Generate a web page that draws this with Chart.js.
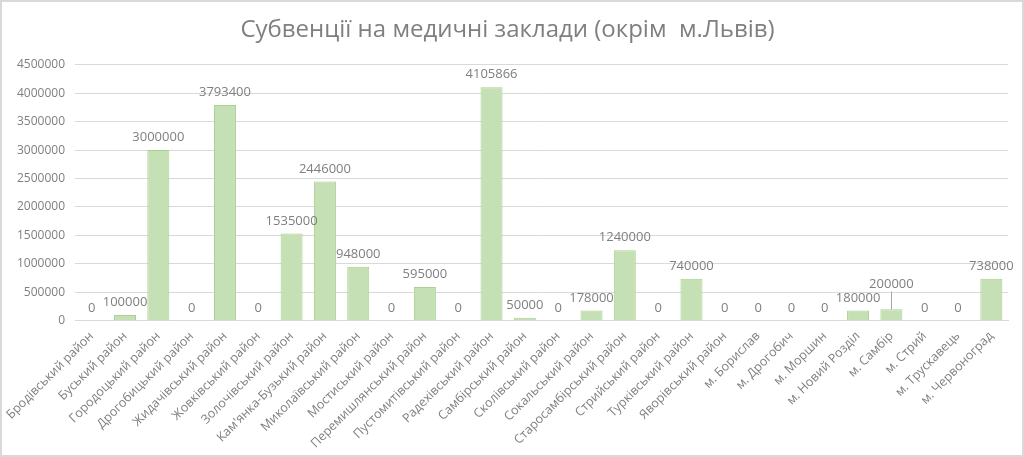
<!DOCTYPE html>
<html>
<head>
<meta charset="utf-8">
<script src="https://cdn.jsdelivr.net/npm/chart.js@4"></script>
<style>
  html, body { margin: 0; padding: 0; background: #fff; }
  #wrap { position: relative; width: 1020px; height: 453px; border: 2px solid #d9d9d9; }
</style>
</head>
<body>
<div id="wrap"><canvas id="subChart"></canvas></div>
<script>
const districts = [
  'Бродівський район', 'Буський район', 'Городоцький район', 'Дрогобицький район',
  'Жидачівський район', 'Жовківський район', 'Золочівський район', "Кам'янка-Бузький район",
  'Миколаївський район', 'Мостиський район', 'Перемишлянський район', 'Пустомитівський район',
  'Радехівський район', 'Самбірський район', 'Сколівський район', 'Сокальський район',
  'Старосамбірський район', 'Стрийський район', 'Турківський район', 'Яворівський район',
  'м. Борислав', 'м. Дрогобич', 'м. Моршин', 'м. Новий Розділ',
  'м. Самбір', 'м. Стрий', 'м. Трускавець', 'м. Червоноград'
];
const subventions = [
  0, 100000, 3000000, 0,
  3793400, 0, 1535000, 2446000,
  948000, 0, 595000, 0,
  4105866, 50000, 0, 178000,
  1240000, 0, 740000, 0,
  0, 0, 0, 180000,
  200000, 0, 0, 738000
];
const yTicks = [0, 500000, 1000000, 1500000, 2000000, 2500000, 3000000, 3500000, 4000000, 4500000];

// value labels above bars; a label that would overlap its left neighbour is lifted with a leader line
const valueLabels = {
  id: 'valueLabels',
  afterDatasetsDraw(chart) {
    const ctx = chart.ctx;
    const meta = chart.getDatasetMeta(0);
    ctx.save();
    ctx.font = '13px "Open Sans"';
    ctx.fillStyle = '#7f7f7f';
    ctx.strokeStyle = '#a6a6a6';
    ctx.lineWidth = 1;
    ctx.textAlign = 'center';
    ctx.textBaseline = 'bottom';
    let prev = null;
    meta.data.forEach((bar, i) => {
      const txt = String(subventions[i]);
      const w = ctx.measureText(txt).width;
      let y = bar.y - 6;
      const box = { l: bar.x - w / 2, r: bar.x + w / 2, b: y, t: y - 14 };
      if (prev && box.l < prev.r + 2 && box.b > prev.t && box.t < prev.b) {
        const lift = box.b - prev.t;
        y -= lift;
        box.b -= lift; box.t -= lift;
        ctx.beginPath();
        ctx.moveTo(Math.round(bar.x) + 0.5, y + 1);
        ctx.lineTo(Math.round(bar.x) + 0.5, bar.y);
        ctx.stroke();
      }
      ctx.fillText(txt, bar.x, y);
      prev = box;
    });
    ctx.restore();
  }
};

const ctx = document.getElementById('subChart').getContext('2d');
new Chart(ctx, {
  type: 'bar',
  data: {
    labels: districts,
    datasets: [{
      data: subventions,
      backgroundColor: '#c5e0b4',
      borderColor: '#a9d18e',
      borderWidth: 1,
      categoryPercentage: 1,
      barPercentage: 0.66
    }]
  },
  options: {
    responsive: true,
    maintainAspectRatio: false,
    animation: false,
    layout: { padding: { left: 5, right: 14, top: 8, bottom: 4 } },
    plugins: {
      legend: { display: false },
      tooltip: { enabled: false },
      title: {
        display: true,
        text: 'Субвенції на медичні заклади (окрім  м.Львів)',
        color: '#7f7f7f',
        font: { family: '"Open Sans"', size: 24, weight: 'normal' },
        padding: { top: 6, bottom: 20 }
      }
    },
    scales: {
      x: {
        grid: { display: false },
        border: { color: '#d9d9d9' },
        ticks: {
          color: '#7f7f7f',
          font: { family: '"Open Sans"', size: 12.5 },
          maxRotation: 45,
          minRotation: 45,
          autoSkip: false,
          padding: 0
        }
      },
      y: {
        min: 0,
        max: 4500000,
        afterBuildTicks(axis) { axis.ticks = yTicks.map(v => ({ value: v })); },
        grid: { color: '#d9d9d9', drawTicks: false },
        border: { display: false },
        ticks: {
          color: '#7f7f7f',
          font: { family: '"Open Sans"', size: 12 },
          padding: 10,
          callback: v => String(v)
        }
      }
    }
  },
  plugins: [valueLabels]
});
</script>
</body>
</html>
